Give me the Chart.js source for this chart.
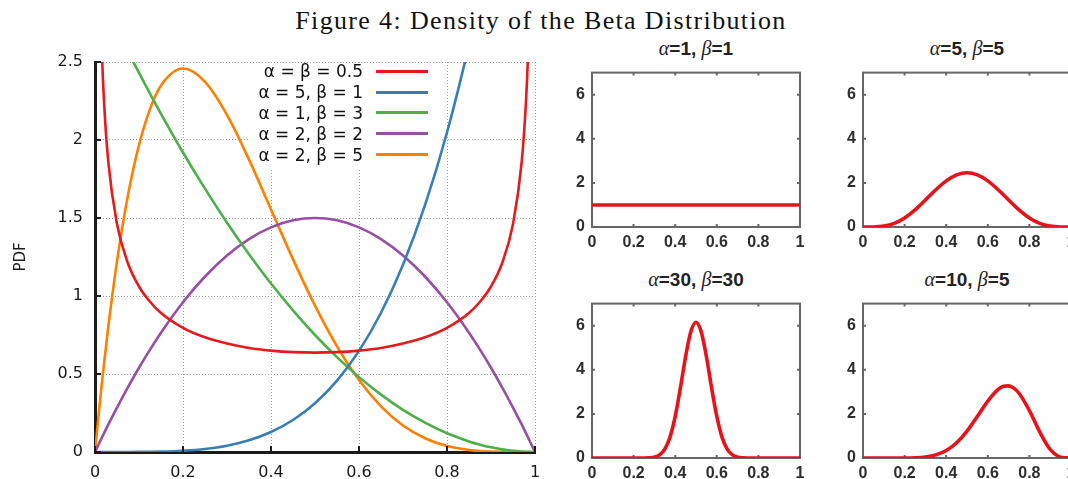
<!DOCTYPE html>
<html>
<head>
<meta charset="utf-8">
<title>Density of the Beta Distribution</title>
<script src="https://cdn.jsdelivr.net/npm/chart.js@4.4.1/dist/chart.umd.min.js"></script>
<style>
  body { margin: 0; background: #fff; }
  #page { position: relative; width: 1068px; height: 479px; overflow: hidden; background: #fff; }
  #title {
    position: absolute; left: 0; top: 8px; width: 1082px;
    text-align: center; white-space: nowrap; color: #111;
    font: 26px/26px "Liberation Serif", serif; letter-spacing: 1.35px;
  }
  canvas { position: absolute; }
  #legend { position: absolute; left: 200px; top: 61px; font: 17px "DejaVu Sans", sans-serif; color: #111; }
  .row { display: flex; align-items: center; height: 20.8px; }
  .row span { width: 163px; text-align: right; white-space: pre; }
  .row i { display: block; width: 52px; height: 3px; margin-left: 13px; }
  .ptitle {
    position: absolute; width: 208px; text-align: center; white-space: nowrap; color: #222;
    font: bold 19px/19px "Liberation Sans", Arial, sans-serif;
  }
  .ptitle em { font: italic 20px "Liberation Serif", serif; }
</style>
</head>
<body>
<div id="page">
  <div id="title">Figure 4: Density of the Beta Distribution</div>
  <canvas id="main" width="560" height="439" style="left:0;top:40px"></canvas>
  <div id="legend"></div>
</div>
<script>
// left plot: sample points along x and the density
const betaX = [0, 0.01, 0.015, 0.02, 0.03, 0.05, 0.075, 0.1, 0.125, 0.15, 0.2, 0.25, 0.3, 0.35, 0.4, 0.45, 0.5,
  0.55, 0.6, 0.65, 0.7, 0.75, 0.8, 0.85, 0.875, 0.9, 0.925, 0.95, 0.97, 0.98, 0.985, 0.99, 1];
const redY = [null, 3.199, 2.619, 2.274, 1.866, 1.461, 1.208, 1.061, 0.963, 0.891, 0.796, 0.735, 0.695, 0.667, 0.650, 0.640, 0.637,
  0.640, 0.650, 0.667, 0.695, 0.735, 0.796, 0.891, 0.963, 1.061, 1.208, 1.461, 1.866, 2.274, 2.619, 3.199, null];
const blueY = [0, 0, 0, 0, 0, 0.00003, 0.00016, 0.0005, 0.0012, 0.0025, 0.008, 0.0195, 0.0405, 0.075, 0.128, 0.205, 0.3125,
  0.4575, 0.648, 0.8926, 1.2005, 1.582, 2.048, 2.610, 2.931, 3.281, 3.660, 4.073, 4.426, 4.612, 4.707, 4.803, 5];
const greenY = [3, 2.940, 2.911, 2.881, 2.823, 2.708, 2.567, 2.430, 2.297, 2.168, 1.920, 1.688, 1.470, 1.268, 1.080, 0.908, 0.750,
  0.608, 0.480, 0.368, 0.270, 0.188, 0.120, 0.068, 0.047, 0.030, 0.017, 0.008, 0.003, 0.001, 0.001, 0.0003, 0];
const purpleY = [0, 0.059, 0.089, 0.118, 0.175, 0.285, 0.416, 0.540, 0.656, 0.765, 0.960, 1.125, 1.260, 1.365, 1.440, 1.485, 1.500,
  1.485, 1.440, 1.365, 1.260, 1.125, 0.960, 0.765, 0.656, 0.540, 0.416, 0.285, 0.175, 0.118, 0.089, 0.059, 0];
const orangeY = [0, 0.288, 0.424, 0.553, 0.797, 1.222, 1.647, 1.968, 2.198, 2.349, 2.458, 2.373, 2.161, 1.874, 1.555, 1.235, 0.938,
  0.677, 0.461, 0.293, 0.170, 0.088, 0.038, 0.013, 0.006, 0.003, 0.001, 0.0002, 0, 0, 0, 0, 0];

const seriesLabels = ["α = β = 0.5", "α = 5, β = 1", "α = 1, β = 3", "α = 2, β = 2", "α = 2, β = 5"];
const seriesColors = ["#e41a1c", "#377eb8", "#4daf4a", "#984ea3", "#ff7f00"];

const mainXTicks = [0, 0.2, 0.4, 0.6, 0.8, 1];
const mainXLabels = ["0", "0.2", "0.4", "0.6", "0.8", "1"];
const mainYTicks = [0, 0.5, 1, 1.5, 2, 2.5];
const mainYLabels = ["0", "0.5", "1", "1.5", "2", "2.5"];

// right panels
const panelAlpha = [1, 5, 30, 10];
const panelBeta = [1, 5, 30, 5];
const uniformX = [0, 1];
const uniformY = [1, 1];
const b55X = [0, 0.05, 0.1, 0.15, 0.2, 0.25, 0.3, 0.35, 0.4, 0.45, 0.5, 0.55, 0.6, 0.65, 0.7, 0.75, 0.8, 0.85, 0.9, 0.95, 1];
const b55Y = [0, 0.003, 0.041, 0.167, 0.413, 0.779, 1.225, 1.688, 2.090, 2.364, 2.461, 2.364, 2.090, 1.688, 1.225, 0.779, 0.413, 0.167, 0.041, 0.003, 0];
const b3030X = [0, 0.1, 0.2, 0.25, 0.275, 0.3, 0.325, 0.35, 0.375, 0.4, 0.425, 0.45, 0.475, 0.5,
  0.525, 0.55, 0.575, 0.6, 0.625, 0.65, 0.675, 0.7, 0.725, 0.75, 0.8, 0.9, 1];
const b3030Y = [0, 0, 0, 0.002, 0.009, 0.039, 0.139, 0.400, 0.947, 1.884, 3.181, 4.598, 5.723, 6.154,
  5.723, 4.598, 3.181, 1.884, 0.947, 0.400, 0.139, 0.039, 0.009, 0.002, 0, 0, 0];
const b105X = [0, 0.1, 0.2, 0.25, 0.3, 0.35, 0.4, 0.45, 0.5, 0.55, 0.6, 0.65, 0.675, 0.7, 0.725, 0.75, 0.8, 0.85, 0.9, 0.95, 1];
const b105Y = [0, 0, 0.002, 0.012, 0.047, 0.141, 0.340, 0.693, 1.222, 1.890, 2.583, 3.111, 3.250, 3.272, 3.169, 2.936, 2.150, 1.174, 0.388, 0.039, 0];

const panelXTicks = [0, 0.2, 0.4, 0.6, 0.8, 1];
const panelXLabels = ["0", "0.2", "0.4", "0.6", "0.8", "1"];
const panelYTicks = [0, 2, 4, 6];
const panelYLabels = ["0", "2", "4", "6"];

const panelData = [[uniformX, uniformY], [b55X, b55Y], [b3030X, b3030Y], [b105X, b105Y]];
// box corner (left, top) of each small plot on the page
const panelBoxes = [[592, 66], [863, 66], [592, 297], [863, 297]];

const toPoints = (xs, ys) => xs.map((x, i) => ({ x, y: ys[i] }));

// white patch behind the key, hides the dotted grid like gnuplot's opaque key
const keyBackdrop = {
  id: "keyBackdrop",
  beforeDatasetsDraw(chart) {
    const ctx = chart.ctx;
    ctx.save();
    ctx.fillStyle = "#fff";
    ctx.fillRect(250, 24, 190, 104);
    ctx.restore();
  },
};

const inwardTicks = {
  id: "inwardTicks",
  afterDraw(chart) {
    const { ctx, chartArea: a, scales } = chart;
    ctx.save();
    ctx.strokeStyle = "#1a1a1a";
    ctx.lineWidth = 2;
    ctx.beginPath();
    scales.x.ticks.forEach((t) => {
      const px = scales.x.getPixelForValue(t.value);
      ctx.moveTo(px, a.bottom);
      ctx.lineTo(px, a.bottom - 6);
    });
    scales.y.ticks.forEach((t) => {
      const py = scales.y.getPixelForValue(t.value);
      ctx.moveTo(a.left, py);
      ctx.lineTo(a.left + 6, py);
    });
    ctx.stroke();
    ctx.restore();
  },
};

const panelBox = {
  id: "panelBox",
  beforeDatasetsDraw(chart) {
    const { ctx, chartArea: a, scales } = chart;
    ctx.save();
    ctx.strokeStyle = "#666";
    ctx.lineWidth = 2;
    ctx.strokeRect(a.left, a.top, a.right - a.left, a.bottom - a.top);
    ctx.beginPath();
    scales.x.ticks.forEach((t) => {
      const px = scales.x.getPixelForValue(t.value);
      ctx.moveTo(px, a.bottom); ctx.lineTo(px, a.bottom - 3);
      ctx.moveTo(px, a.top); ctx.lineTo(px, a.top + 3);
    });
    scales.y.ticks.forEach((t) => {
      const py = scales.y.getPixelForValue(t.value);
      ctx.moveTo(a.left, py); ctx.lineTo(a.left + 3, py);
      ctx.moveTo(a.right, py); ctx.lineTo(a.right - 3, py);
    });
    ctx.stroke();
    ctx.restore();
  },
};

const mainFont = { family: "DejaVu Sans", size: 16 };

new Chart(document.getElementById("main"), {
  type: "line",
  data: {
    datasets: [redY, blueY, greenY, purpleY, orangeY].map((ys, i) => ({
      label: seriesLabels[i],
      data: toPoints(betaX, ys),
      borderColor: seriesColors[i],
      borderWidth: 2.6,
      pointRadius: 0,
      fill: false,
      cubicInterpolationMode: "monotone",
    })),
  },
  options: {
    responsive: false,
    animation: false,
    layout: { padding: { top: 22, right: 25, left: 0, bottom: 0 } },
    plugins: { legend: { display: false }, tooltip: { enabled: false } },
    scales: {
      x: {
        type: "linear", min: 0, max: 1,
        afterBuildTicks: (s) => { s.ticks = mainXTicks.map((v) => ({ value: v })); },
        afterFit: (s) => { s.height = 27; },
        grid: { drawTicks: false, color: "#9a9a9a", lineWidth: 1 },
        border: { color: "#1a1a1a", width: 3, dash: [1, 2] },
        ticks: { padding: 11, color: "#1a1a1a", font: mainFont, maxRotation: 0, autoSkip: false,
          callback: (v, i) => mainXLabels[i] },
      },
      y: {
        min: 0, max: 2.5,
        afterBuildTicks: (s) => { s.ticks = mainYTicks.map((v) => ({ value: v })); },
        afterFit: (s) => { s.width = 95; },
        grid: { drawTicks: false, color: "#9a9a9a", lineWidth: 1 },
        border: { color: "#1a1a1a", width: 3, dash: [1, 2] },
        ticks: { padding: 12, color: "#1a1a1a", font: mainFont, callback: (v, i) => mainYLabels[i] },
        title: { display: true, text: "PDF", color: "#1a1a1a", font: { family: "DejaVu Sans", size: 15 },
          padding: { top: 12, bottom: 0 } },
      },
    },
  },
  plugins: [keyBackdrop, inwardTicks],
});

// key: text on the left, line sample on the right
const legend = document.getElementById("legend");
seriesLabels.forEach((label, i) => {
  const row = document.createElement("div");
  row.className = "row";
  row.innerHTML = `<span>${label}</span><i style="background:${seriesColors[i]}"></i>`;
  legend.appendChild(row);
});

const page = document.getElementById("page");
const panelFont = { family: "Liberation Sans", size: 16, weight: "bold" };

panelData.forEach(([xs, ys], p) => {
  const [boxLeft, boxTop] = panelBoxes[p];

  const title = document.createElement("div");
  title.className = "ptitle";
  title.style.left = boxLeft + "px";
  title.style.top = boxTop - 29 + "px";
  title.innerHTML = `<em>α</em>=${panelAlpha[p]}, <em>β</em>=${panelBeta[p]}`;
  page.appendChild(title);

  const canvas = document.createElement("canvas");
  canvas.width = 270;
  canvas.height = 200;
  canvas.style.left = boxLeft - 42 + "px";
  canvas.style.top = boxTop - 10 + "px";
  page.appendChild(canvas);

  new Chart(canvas, {
    type: "line",
    data: {
      datasets: [{
        data: toPoints(xs, ys),
        borderColor: "#e8121b",
        borderWidth: 3.6,
        pointRadius: 0,
        fill: false,
        cubicInterpolationMode: "monotone",
      }],
    },
    options: {
      responsive: false,
      animation: false,
      layout: { padding: { top: 10, right: 20, left: 0, bottom: 0 } },
      plugins: { legend: { display: false }, tooltip: { enabled: false } },
      scales: {
        x: {
          type: "linear", min: 0, max: 1,
          afterBuildTicks: (s) => { s.ticks = panelXTicks.map((v) => ({ value: v })); },
          afterFit: (s) => { s.height = 29; },
          grid: { display: false, drawTicks: false },
          border: { display: false },
          ticks: { padding: 6, color: "#2e2e2e", font: panelFont, maxRotation: 0, autoSkip: false,
            callback: (v, i) => panelXLabels[i] },
        },
        y: {
          min: 0, max: 7,
          afterBuildTicks: (s) => { s.ticks = panelYTicks.map((v) => ({ value: v })); },
          afterFit: (s) => { s.width = 42; },
          grid: { display: false, drawTicks: false },
          border: { display: false },
          ticks: { padding: 7, color: "#2e2e2e", font: panelFont, callback: (v, i) => panelYLabels[i] },
        },
      },
    },
    plugins: [panelBox],
  });
});
</script>
</body>
</html>
